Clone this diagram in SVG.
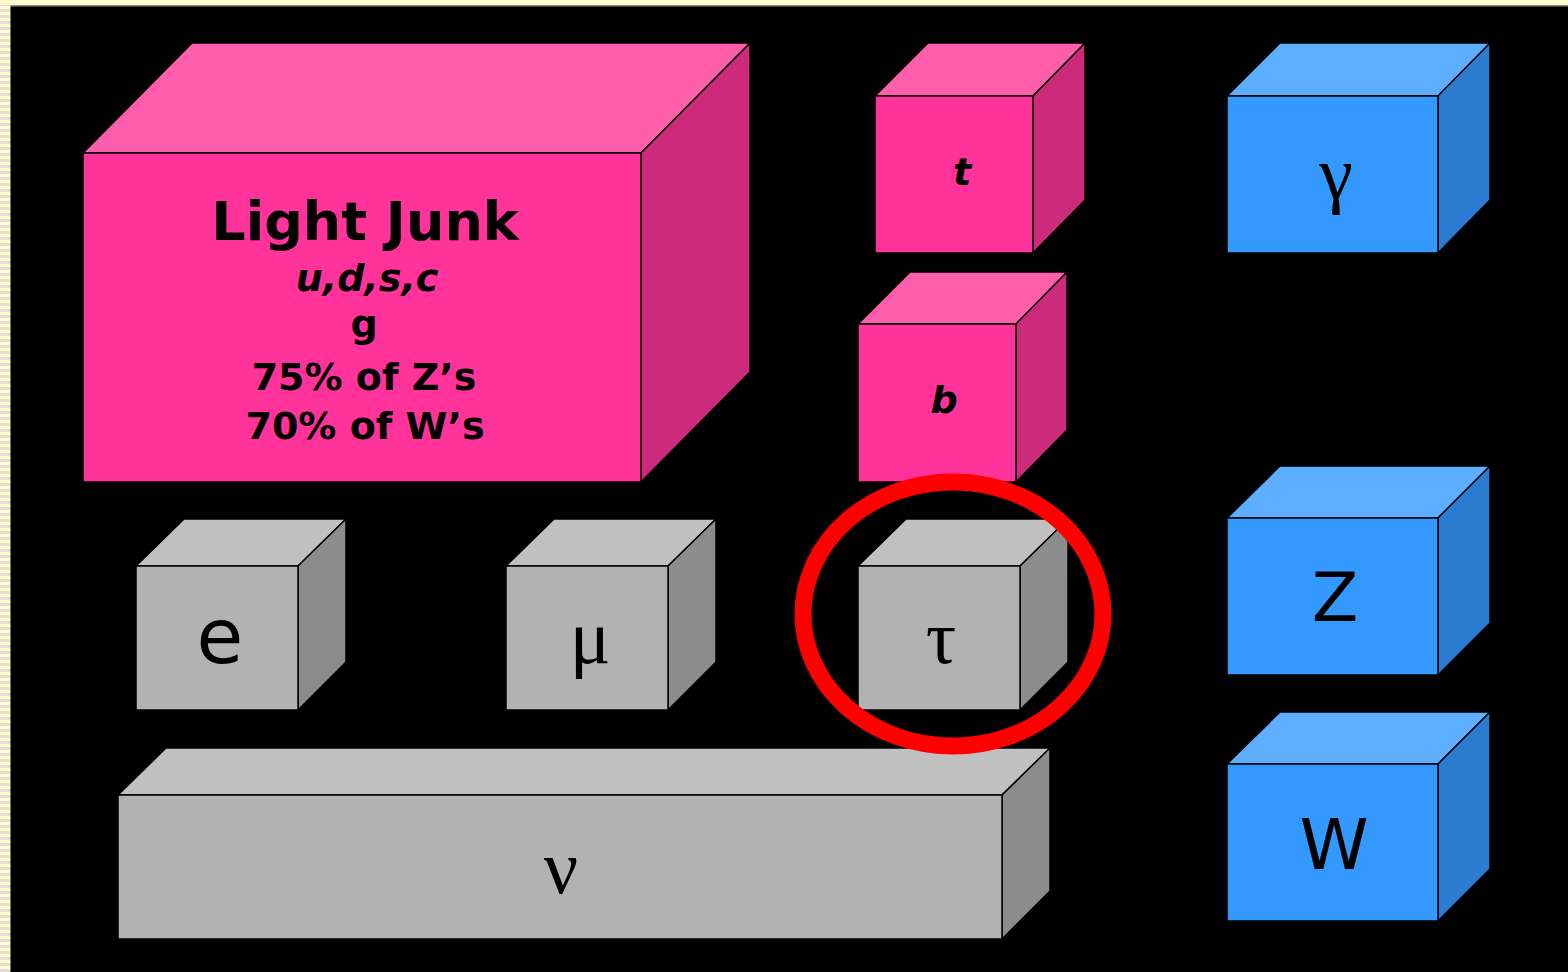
<svg xmlns="http://www.w3.org/2000/svg" width="1568" height="972" viewBox="0 0 1568 972">
<defs>
<pattern id="stripes" width="11" height="6" patternUnits="userSpaceOnUse">
<rect width="11" height="6" fill="#FFFCCC"/>
<rect y="3" width="11" height="3" fill="#E2E0D6"/>
</pattern>
</defs>
<style>
.pf{fill:#FF3399;stroke:#000;stroke-width:1.5}
.pt{fill:#FF5FAA;stroke:#000;stroke-width:1.5}
.pr{fill:#CC2A7A;stroke:#000;stroke-width:1.5}
.gf{fill:#B2B2B2;stroke:#000;stroke-width:1.5}
.gt{fill:#C0C0C0;stroke:#000;stroke-width:1.5}
.gr{fill:#8C8C8C;stroke:#000;stroke-width:1.5}
.bf{fill:#3399FF;stroke:#000;stroke-width:1.5}
.bt{fill:#5EAEFF;stroke:#000;stroke-width:1.5}
.br{fill:#2B7BD0;stroke:#000;stroke-width:1.5}
.sans{font-family:"DejaVu Sans",Verdana,sans-serif;fill:#000;text-anchor:middle}
.bold{font-family:"DejaVu Sans",Verdana,sans-serif;font-weight:bold;fill:#000;text-anchor:middle}
.bi{font-family:"DejaVu Sans",Verdana,sans-serif;font-weight:bold;font-style:italic;fill:#000;text-anchor:middle}
.ser{font-family:"Liberation Serif","Times New Roman",serif;fill:#000;text-anchor:middle}
</style>
<rect width="1568" height="972" fill="#000"/>
<rect x="0" y="0" width="1568" height="5" fill="#FFFCCC"/>
<rect x="10" y="5" width="1558" height="1.5" fill="#8A8A8A"/>
<rect x="0" y="5" width="10.5" height="967" fill="url(#stripes)"/>

<g id="lightjunk">
<polygon class="pt" points="83,153 192,43 750,43 641,153"/>
<polygon class="pr" points="641,153 750,43 750,372 641,482"/>
<rect class="pf" x="83" y="153" width="558" height="329"/>
<text class="bold" x="365" y="240" font-size="54">Light Junk</text>
<text class="bi" x="367" y="291" font-size="38">u,d,s,c</text>
<text class="bold" x="364" y="337" font-size="38">g</text>
<text class="bold" x="364" y="390" font-size="38">75% of Z’s</text>
<text class="bold" x="365" y="439" font-size="38">70% of W’s</text>
</g>

<g id="top">
<polygon class="pt" points="875,96 928,43 1085,43 1033,96"/>
<polygon class="pr" points="1033,96 1085,43 1085,200 1033,253"/>
<rect class="pf" x="875" y="96" width="158" height="157"/>
<text class="bi" x="962" y="185" font-size="38">t</text>
</g>

<g id="bottom">
<polygon class="pt" points="858,324 910,272 1067,272 1016,324"/>
<polygon class="pr" points="1016,324 1067,272 1067,430 1016,482"/>
<rect class="pf" x="858" y="324" width="158" height="158"/>
<text class="bi" x="944" y="413" font-size="38">b</text>
</g>

<g id="gamma">
<polygon class="bt" points="1227,96 1280,43 1490,43 1438,96"/>
<polygon class="br" points="1438,96 1490,43 1490,200 1438,253"/>
<rect class="bf" x="1227" y="96" width="211" height="157"/>
<text class="ser" x="1336" y="199" font-size="76">γ</text>
</g>

<g id="z">
<polygon class="bt" points="1227,518 1280,466 1490,466 1438,518"/>
<polygon class="br" points="1438,518 1490,466 1490,623 1438,675"/>
<rect class="bf" x="1227" y="518" width="211" height="157"/>
<text class="sans" x="1335" y="621" font-size="68">Z</text>
</g>

<g id="w">
<polygon class="bt" points="1227,764 1280,712 1490,712 1438,764"/>
<polygon class="br" points="1438,764 1490,712 1490,869 1438,921"/>
<rect class="bf" x="1227" y="764" width="211" height="157"/>
<text class="sans" x="1334" y="869" font-size="70">W</text>
</g>

<g id="electron">
<polygon class="gt" points="136,566 184,519 346,519 298,566"/>
<polygon class="gr" points="298,566 346,519 346,662 298,710"/>
<rect class="gf" x="136" y="566" width="162" height="144"/>
<text class="sans" x="220" y="663" font-size="76">e</text>
</g>

<g id="muon">
<polygon class="gt" points="506,566 554,519 716,519 668,566"/>
<polygon class="gr" points="668,566 716,519 716,662 668,710"/>
<rect class="gf" x="506" y="566" width="162" height="144"/>
<text class="ser" x="590" y="663" font-size="76">μ</text>
</g>

<g id="tau">
<polygon class="gt" points="858,566 906,519 1068,519 1020,566"/>
<polygon class="gr" points="1020,566 1068,519 1068,662 1020,710"/>
<rect class="gf" x="858" y="566" width="162" height="144"/>
<text class="ser" x="941" y="663" font-size="76">τ</text>
</g>

<g id="neutrino">
<polygon class="gt" points="118,795 166,748 1050,748 1002,795"/>
<polygon class="gr" points="1002,795 1050,748 1050,891 1002,939"/>
<rect class="gf" x="118" y="795" width="884" height="144"/>
<text class="ser" x="561" y="893" font-size="76">ν</text>
</g>

<g id="connectors">
<ellipse cx="953" cy="614" rx="150" ry="132" fill="none" stroke="#FF0000" stroke-width="17"/>
</g>
</svg>
